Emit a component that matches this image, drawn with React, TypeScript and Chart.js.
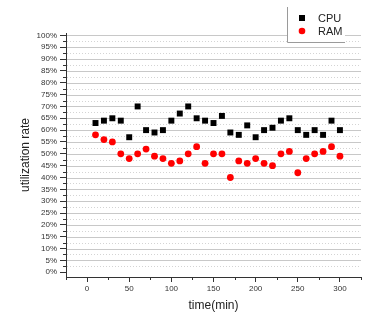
import React, { useEffect, useRef } from "react";
import { Chart, registerables } from "chart.js";

Chart.register(...registerables);

const times = [10, 20, 30, 40, 50, 60, 70, 80, 90, 100, 110, 120, 130, 140, 150, 160, 170, 180, 190, 200, 210, 220, 230, 240, 250, 260, 270, 280, 290, 300];
const cpu = [63, 64, 65, 64, 57, 70, 60, 59, 60, 64, 67, 70, 65, 64, 63, 66, 59, 58, 62, 57, 60, 61, 64, 65, 60, 58, 60, 58, 64, 60];
const ram = [58, 56, 55, 50, 48, 50, 52, 49, 48, 46, 47, 50, 53, 46, 50, 50, 40, 47, 46, 48, 46, 45, 50, 51, 42, 48, 50, 51, 53, 49];
const seriesNames = ["CPU", "RAM"];
const seriesColors = ["#000000", "#ff0000"];
const xMajorTicks = [0, 50, 100, 150, 200, 250, 300];
const xMinorTicks = [-25, 25, 75, 125, 175, 225, 275, 325];
const yMajorTicks = [0, 5, 10, 15, 20, 25, 30, 35, 40, 45, 50, 55, 60, 65, 70, 75, 80, 85, 90, 95, 100];
const yMinorTicks = [2.5, 7.5, 12.5, 17.5, 22.5, 27.5, 32.5, 37.5, 42.5, 47.5, 52.5, 57.5, 62.5, 67.5, 72.5, 77.5, 82.5, 87.5, 92.5, 97.5];

const FONT = "'Liberation Sans', Arial, sans-serif";

const gridPlugin = {
  id: "customGrid",
  beforeDatasetsDraw(chart: any) {
    const { ctx, chartArea, scales } = chart;
    const y = scales.y;
    const x = scales.x;
    ctx.save();
    ctx.lineWidth = 1;
    // minor dotted
    ctx.strokeStyle = "#d4d4d4";
    ctx.setLineDash([1, 2]);
    for (const v of yMinorTicks) {
      const py = Math.round(y.getPixelForValue(v)) + 0.5;
      ctx.beginPath();
      ctx.moveTo(chartArea.left + 1, py);
      ctx.lineTo(chartArea.right, py);
      ctx.stroke();
    }
    // major solid
    ctx.setLineDash([]);
    ctx.strokeStyle = "#c8c8c8";
    for (const v of yMajorTicks) {
      if (v === 0) continue;
      const py = Math.round(y.getPixelForValue(v)) + 0.5;
      ctx.beginPath();
      ctx.moveTo(chartArea.left + 1, py);
      ctx.lineTo(chartArea.right, py);
      ctx.stroke();
    }
    // minor tick marks
    ctx.strokeStyle = "#333333";
    for (const v of yMinorTicks) {
      const py = Math.round(y.getPixelForValue(v)) + 0.5;
      ctx.beginPath();
      ctx.moveTo(chartArea.left - 3, py);
      ctx.lineTo(chartArea.left, py);
      ctx.stroke();
    }
    for (const v of xMinorTicks) {
      const px = Math.round(x.getPixelForValue(v)) + 0.5;
      ctx.beginPath();
      ctx.moveTo(px, chartArea.bottom);
      ctx.lineTo(px, chartArea.bottom + 3);
      ctx.stroke();
    }
    ctx.restore();
  },
};

const legendPlugin = {
  id: "boxLegend",
  afterDatasetsDraw(chart: any) {
    const { ctx, chartArea } = chart;
    const x0 = chartArea.right - 74;
    const x1 = chartArea.right - 16;
    const y0 = chartArea.top - 26;
    const y1 = chartArea.top + 9;
    ctx.save();
    ctx.fillStyle = "#ffffff";
    ctx.fillRect(x0, y0, x1 - x0, y1 - y0);
    ctx.strokeStyle = "#9a9a9a";
    ctx.lineWidth = 1;
    ctx.beginPath();
    ctx.moveTo(x0 + 0.5, y0);
    ctx.lineTo(x0 + 0.5, y1 + 0.5);
    ctx.lineTo(x1, y1 + 0.5);
    ctx.stroke();
    ctx.font = `11px ${FONT}`;
    ctx.textBaseline = "middle";
    seriesNames.forEach((name, i) => {
      const cy = y0 + 11 + i * 13;
      const cx = x0 + 15;
      ctx.fillStyle = seriesColors[i];
      if (i === 0) {
        ctx.fillRect(cx - 3, cy - 3, 6, 6);
      } else {
        ctx.beginPath();
        ctx.arc(cx, cy, 3.3, 0, Math.PI * 2);
        ctx.fill();
      }
      ctx.fillStyle = "#222222";
      ctx.fillText(name, cx + 16, cy + 0.5);
    });
    ctx.restore();
  },
};

export default function App() {
  const canvasRef = useRef<HTMLCanvasElement | null>(null);

  useEffect(() => {
    document.body.style.margin = "0";
    const canvas = canvasRef.current;
    if (!canvas) return;
    Chart.defaults.font.family = FONT;
    const chart = new Chart(canvas, {
      type: "scatter",
      data: {
        datasets: [
          {
            label: seriesNames[0],
            data: times.map((t, i) => ({ x: t, y: cpu[i] })),
            pointStyle: "rect",
            pointRadius: 4.2,
            pointHoverRadius: 4.2,
            backgroundColor: seriesColors[0],
            borderColor: seriesColors[0],
            borderWidth: 0,
          },
          {
            label: seriesNames[1],
            data: times.map((t, i) => ({ x: t, y: ram[i] })),
            pointStyle: "circle",
            pointRadius: 3.4,
            pointHoverRadius: 3.4,
            backgroundColor: seriesColors[1],
            borderColor: seriesColors[1],
            borderWidth: 0,
          },
        ],
      },
      options: {
        responsive: false,
        animation: false,
        devicePixelRatio: 1,
        layout: { padding: { left: 4, right: 23, top: 33, bottom: 0 } },
        plugins: {
          legend: { display: false },
          tooltip: { enabled: false },
        },
        scales: {
          x: {
            type: "linear",
            min: -25,
            max: 325,
            afterBuildTicks: (s: any) => {
              s.ticks = xMajorTicks.map((v) => ({ value: v }));
            },
            afterFit: (s: any) => {
              s.height = 39;
            },
            ticks: {
              autoSkip: false,
              maxRotation: 0,
              font: { size: 8 },
              color: "#333333",
              padding: 2,
            },
            grid: { drawOnChartArea: false, drawTicks: true, tickLength: 5, color: "#333333" },
            border: { display: true, color: "#333333", width: 1 },
            title: {
              display: true,
              text: "time(min)",
              font: { size: 12 },
              color: "#222222",
              padding: { top: 0, bottom: 3 },
            },
          },
          y: {
            type: "linear",
            min: -2,
            max: 101,
            afterBuildTicks: (s: any) => {
              s.ticks = yMajorTicks.map((v) => ({ value: v }));
            },
            afterFit: (s: any) => {
              s.width = 62;
            },
            ticks: {
              autoSkip: false,
              font: { size: 8 },
              color: "#333333",
              padding: 3,
              callback: (v: any) => `${v}%`,
            },
            grid: { drawOnChartArea: false, drawTicks: true, tickLength: 6, color: "#333333" },
            border: { display: true, color: "#333333", width: 1 },
            title: {
              display: true,
              text: "utilization rate",
              font: { size: 12 },
              color: "#222222",
              padding: { top: 14, bottom: 0 },
            },
          },
        },
      },
      plugins: [gridPlugin, legendPlugin],
    });
    return () => chart.destroy();
  }, []);

  return (
    <div style={{ width: 384, height: 316, background: "#ffffff" }}>
      <canvas ref={canvasRef} width={384} height={316} />
    </div>
  );
}
